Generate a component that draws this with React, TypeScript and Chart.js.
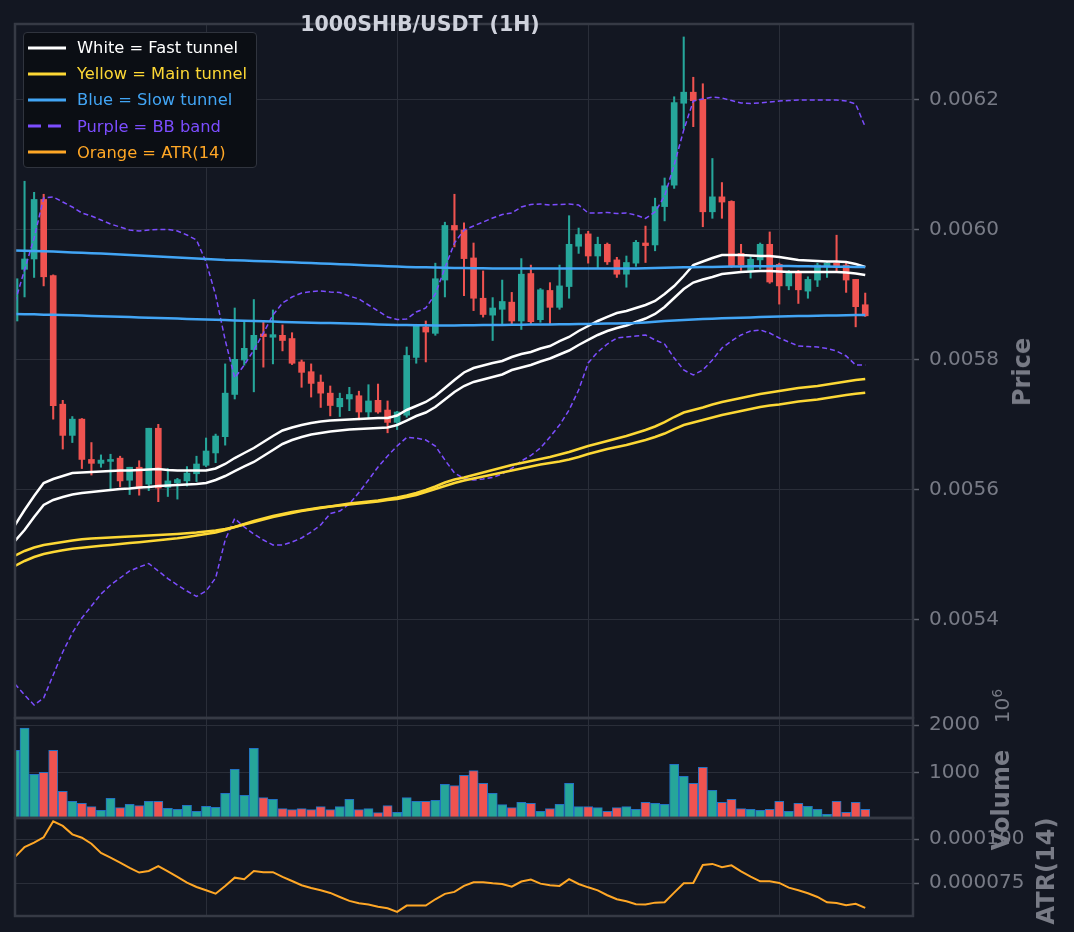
import { useEffect, useRef } from "react";
import { Chart, registerables } from "chart.js";

Chart.register(...registerables);
Chart.defaults.font.family = "'DejaVu Sans', sans-serif";

// 1H candles, oldest first
const OPEN = [
  0.005860, 0.0059395, 0.0059554, 0.006047, 0.005930, 0.005732, 0.005684, 0.005709, 0.005647, 0.005641,
  0.005644, 0.005649, 0.005615, 0.005635, 0.005609, 0.005695, 0.005604, 0.005611, 0.005614, 0.005625,
  0.005638, 0.005657, 0.005682, 0.005747, 0.005800, 0.005816, 0.005840, 0.005835, 0.005838, 0.005833,
  0.005797, 0.005782, 0.005766, 0.005749, 0.005728, 0.005740, 0.005745, 0.005720, 0.005738, 0.005723,
  0.005704, 0.005715, 0.005804, 0.005851, 0.005841, 0.005923, 0.006007, 0.006000, 0.005957, 0.005895,
  0.005869, 0.005878, 0.005889, 0.005860, 0.005933, 0.005862, 0.005907, 0.005881, 0.005913, 0.005975,
  0.005994, 0.005960, 0.005978, 0.005954, 0.005932, 0.005949, 0.005980, 0.005977, 0.006036, 0.006069,
  0.006195, 0.006212, 0.006201, 0.006028, 0.006051, 0.006044, 0.005964, 0.005938, 0.005954, 0.005978,
  0.005947, 0.005914, 0.005936, 0.005906, 0.005923, 0.005943, 0.005949, 0.005946, 0.005924, 0.005885,
];
const HIGH = [
  0.005942, 0.006075, 0.006058, 0.006055, 0.005931, 0.005738, 0.005713, 0.005710, 0.005673, 0.005654,
  0.005655, 0.005652, 0.005635, 0.005645, 0.005695, 0.005701, 0.005633, 0.005618, 0.005636, 0.005652,
  0.005680, 0.005686, 0.005794, 0.005880, 0.005859, 0.005893, 0.005859, 0.005877, 0.005854, 0.005842,
  0.005800, 0.005794, 0.005777, 0.005760, 0.005749, 0.005758, 0.005752, 0.005762, 0.005763, 0.005737,
  0.005721, 0.005820, 0.005855, 0.005860, 0.005949, 0.006012, 0.006055, 0.006011, 0.005980, 0.005937,
  0.005896, 0.005923, 0.005904, 0.005956, 0.005946, 0.005910, 0.005919, 0.005946, 0.006022, 0.006003,
  0.005998, 0.005989, 0.005980, 0.005958, 0.005960, 0.005984, 0.006006, 0.006049, 0.006080, 0.006205,
  0.006297, 0.006235, 0.006225, 0.006110, 0.006073, 0.006045, 0.005978, 0.005959, 0.005980, 0.005997,
  0.005949, 0.005938, 0.005938, 0.005928, 0.005949, 0.005950, 0.005992, 0.005949, 0.005924, 0.005903,
];
const LOW = [
  0.005800, 0.005897, 0.005927, 0.005914, 0.005709, 0.005663, 0.005673, 0.005633, 0.005623, 0.005635,
  0.005600, 0.005605, 0.005593, 0.005592, 0.005599, 0.005582, 0.005590, 0.005586, 0.005606, 0.005613,
  0.005636, 0.005642, 0.005669, 0.005740, 0.005792, 0.005751, 0.005789, 0.005794, 0.005814, 0.005793,
  0.005758, 0.005743, 0.005727, 0.005714, 0.005713, 0.005722, 0.005708, 0.005711, 0.005718, 0.005688,
  0.005693, 0.005712, 0.005795, 0.005797, 0.005838, 0.005897, 0.005974, 0.005899, 0.005876, 0.005866,
  0.005830, 0.005855, 0.005855, 0.005847, 0.005855, 0.005858, 0.005856, 0.005878, 0.005895, 0.005964,
  0.005949, 0.005942, 0.005947, 0.005927, 0.005912, 0.005944, 0.005950, 0.005968, 0.006014, 0.006064,
  0.006156, 0.006159, 0.006005, 0.006018, 0.006018, 0.005942, 0.005938, 0.005926, 0.005940, 0.005918,
  0.005886, 0.005908, 0.005887, 0.005895, 0.005913, 0.005927, 0.005936, 0.005904, 0.005851, 0.005867,
];
const CLOSE = [
  0.005925, 0.0059554, 0.006047, 0.005928, 0.0057297, 0.005684, 0.005709, 0.005647, 0.005641, 0.005646,
  0.005647, 0.005614, 0.005635, 0.005603, 0.005695, 0.005603, 0.005614, 0.005616, 0.005626, 0.005640,
  0.005660, 0.005683, 0.005749, 0.005801, 0.005818, 0.005838, 0.005836, 0.005839, 0.005830, 0.005795,
  0.005781, 0.005764, 0.005749, 0.005730, 0.005741, 0.005747, 0.005720, 0.005737, 0.005720, 0.005704,
  0.005720, 0.005807, 0.005853, 0.005843, 0.005925, 0.006007, 0.006000, 0.005956, 0.005895, 0.005870,
  0.005880, 0.005890, 0.005860, 0.005932, 0.005859, 0.005908, 0.005881, 0.005914, 0.005978, 0.005993,
  0.005960, 0.005978, 0.005951, 0.005932, 0.005950, 0.005981, 0.005976, 0.006036, 0.006068, 0.006196,
  0.006212, 0.006199, 0.006028, 0.006051, 0.006043, 0.005945, 0.005946, 0.005955, 0.005978, 0.005920,
  0.005914, 0.005936, 0.005908, 0.005924, 0.005946, 0.005949, 0.005943, 0.005923, 0.005882, 0.005868,
];

// volume in millions
const VOLUME = [
  1468, 1943, 957, 1000, 1468, 596, 383, 340, 270, 191,
  447, 248, 319, 291, 383, 383, 234, 213, 298, 170,
  277, 255, 553, 1064, 511, 1511, 461, 426, 227, 206,
  227, 206, 270, 206, 270, 426, 206, 227, 142, 291,
  149, 461, 383, 383, 404, 745, 716, 936, 1035, 766,
  553, 312, 248, 362, 340, 170, 227, 319, 766, 270,
  270, 248, 170, 248, 270, 213, 362, 340, 319, 1170,
  915, 766, 1106, 617, 362, 426, 227, 213, 191, 213,
  383, 170, 340, 277, 213, 106, 383, 149, 362, 213,
];

// fast tunnel (white)
const FAST_A = [
  0.0055462, 0.0055692, 0.0055908, 0.0056108, 0.0056169, 0.0056215, 0.0056262, 0.0056269, 0.0056277, 0.0056285,
  0.0056292, 0.0056300, 0.0056300, 0.0056308, 0.0056315, 0.0056323, 0.0056308, 0.0056300, 0.0056300, 0.0056300,
  0.0056300, 0.0056331, 0.0056400, 0.0056492, 0.0056569, 0.0056646, 0.0056738, 0.0056831, 0.0056915, 0.0056962,
  0.0057000, 0.0057031, 0.0057054, 0.0057069, 0.0057077, 0.0057085, 0.0057092, 0.0057100, 0.0057108, 0.0057108,
  0.0057146, 0.0057231, 0.0057292, 0.0057354, 0.0057446, 0.0057569, 0.0057692, 0.0057808, 0.0057877, 0.0057915,
  0.0057954, 0.0057985, 0.0058046, 0.0058092, 0.0058123, 0.0058177, 0.0058215, 0.0058292, 0.0058354, 0.0058446,
  0.0058523, 0.0058600, 0.0058662, 0.0058723, 0.0058754, 0.0058800, 0.0058846, 0.0058908, 0.0059015, 0.0059138,
  0.0059292, 0.0059462, 0.0059515, 0.0059569, 0.0059615, 0.0059615, 0.0059615, 0.0059608, 0.0059600, 0.0059600,
  0.0059585, 0.0059562, 0.0059538, 0.0059531, 0.0059523, 0.0059515, 0.0059515, 0.0059508, 0.0059477, 0.0059431,
];
const FAST_B = [
  0.0055215, 0.0055385, 0.0055585, 0.0055769, 0.0055846, 0.0055892, 0.0055931, 0.0055954, 0.0055969, 0.0055985,
  0.0056000, 0.0056015, 0.0056023, 0.0056038, 0.0056046, 0.0056062, 0.0056069, 0.0056077, 0.0056085, 0.0056092,
  0.0056108, 0.0056154, 0.0056215, 0.0056292, 0.0056362, 0.0056431, 0.0056523, 0.0056615, 0.0056708, 0.0056769,
  0.0056815, 0.0056854, 0.0056877, 0.0056900, 0.0056915, 0.0056931, 0.0056938, 0.0056946, 0.0056954, 0.0056962,
  0.0057000, 0.0057069, 0.0057138, 0.0057192, 0.0057277, 0.0057392, 0.0057508, 0.0057600, 0.0057662, 0.0057700,
  0.0057738, 0.0057777, 0.0057846, 0.0057885, 0.0057923, 0.0057977, 0.0058023, 0.0058085, 0.0058146, 0.0058231,
  0.0058308, 0.0058385, 0.0058446, 0.0058492, 0.0058531, 0.0058585, 0.0058638, 0.0058708, 0.0058815, 0.0058954,
  0.0059092, 0.0059192, 0.0059238, 0.0059277, 0.0059323, 0.0059338, 0.0059354, 0.0059362, 0.0059369, 0.0059369,
  0.0059362, 0.0059354, 0.0059354, 0.0059354, 0.0059354, 0.0059354, 0.0059354, 0.0059346, 0.0059331, 0.0059308,
];

// main tunnel (yellow)
const MAIN_A = [
  0.0054992, 0.0055062, 0.0055115, 0.0055154, 0.0055177, 0.0055200, 0.0055223, 0.0055242, 0.0055252, 0.0055262,
  0.0055269, 0.0055277, 0.0055285, 0.0055292, 0.0055300, 0.0055308, 0.0055315, 0.0055323, 0.0055334, 0.0055346,
  0.0055362, 0.0055377, 0.0055400, 0.0055431, 0.0055469, 0.0055508, 0.0055546, 0.0055585, 0.0055615, 0.0055646,
  0.0055677, 0.0055700, 0.0055723, 0.0055746, 0.0055769, 0.0055792, 0.0055808, 0.0055823, 0.0055838, 0.0055862,
  0.0055885, 0.0055915, 0.0055954, 0.0056000, 0.0056054, 0.0056115, 0.0056162, 0.0056192, 0.0056231, 0.0056269,
  0.0056308, 0.0056346, 0.0056385, 0.0056415, 0.0056446, 0.0056477, 0.0056508, 0.0056546, 0.0056585, 0.0056631,
  0.0056677, 0.0056715, 0.0056754, 0.0056792, 0.0056831, 0.0056877, 0.0056923, 0.0056977, 0.0057046, 0.0057123,
  0.0057192, 0.0057231, 0.0057269, 0.0057315, 0.0057354, 0.0057385, 0.0057415, 0.0057446, 0.0057477, 0.0057500,
  0.0057523, 0.0057546, 0.0057569, 0.0057585, 0.0057600, 0.0057623, 0.0057646, 0.0057669, 0.0057692, 0.0057708,
];
const MAIN_B = [
  0.0054831, 0.0054908, 0.0054969, 0.0055015, 0.0055046, 0.0055072, 0.0055095, 0.0055111, 0.0055126, 0.0055142,
  0.0055154, 0.0055169, 0.0055185, 0.0055197, 0.0055211, 0.0055226, 0.0055242, 0.0055257, 0.0055277, 0.0055300,
  0.0055323, 0.0055346, 0.0055385, 0.0055431, 0.0055477, 0.0055523, 0.0055562, 0.0055600, 0.0055631, 0.0055662,
  0.0055685, 0.0055708, 0.0055731, 0.0055746, 0.0055762, 0.0055777, 0.0055792, 0.0055808, 0.0055823, 0.0055846,
  0.0055862, 0.0055892, 0.0055923, 0.0055969, 0.0056015, 0.0056062, 0.0056108, 0.0056146, 0.0056177, 0.0056208,
  0.0056238, 0.0056269, 0.0056300, 0.0056331, 0.0056362, 0.0056392, 0.0056415, 0.0056438, 0.0056469, 0.0056508,
  0.0056554, 0.0056592, 0.0056631, 0.0056662, 0.0056692, 0.0056731, 0.0056769, 0.0056815, 0.0056869, 0.0056938,
  0.0057000, 0.0057038, 0.0057077, 0.0057115, 0.0057154, 0.0057185, 0.0057215, 0.0057246, 0.0057277, 0.0057300,
  0.0057315, 0.0057338, 0.0057362, 0.0057377, 0.0057392, 0.0057415, 0.0057438, 0.0057462, 0.0057480, 0.0057497,
];

// slow tunnel (blue)
const SLOW_A = [
  0.0059685, 0.0059680, 0.0059677, 0.0059672, 0.0059668, 0.0059662, 0.0059655, 0.0059649, 0.0059643, 0.0059637,
  0.0059631, 0.0059623, 0.0059615, 0.0059608, 0.0059600, 0.0059592, 0.0059585, 0.0059577, 0.0059569, 0.0059562,
  0.0059554, 0.0059546, 0.0059538, 0.0059534, 0.0059529, 0.0059523, 0.0059518, 0.0059514, 0.0059508, 0.0059503,
  0.0059498, 0.0059492, 0.0059486, 0.0059480, 0.0059474, 0.0059468, 0.0059462, 0.0059455, 0.0059449, 0.0059443,
  0.0059437, 0.0059431, 0.0059428, 0.0059425, 0.0059422, 0.0059418, 0.0059415, 0.0059414, 0.0059412, 0.0059411,
  0.0059409, 0.0059408, 0.0059408, 0.0059408, 0.0059408, 0.0059408, 0.0059408, 0.0059408, 0.0059408, 0.0059408,
  0.0059408, 0.0059408, 0.0059408, 0.0059408, 0.0059408, 0.0059408, 0.0059412, 0.0059415, 0.0059418, 0.0059422,
  0.0059425, 0.0059428, 0.0059431, 0.0059431, 0.0059434, 0.0059437, 0.0059439, 0.0059441, 0.0059443, 0.0059443,
  0.0059445, 0.0059445, 0.0059443, 0.0059443, 0.0059440, 0.0059437, 0.0059435, 0.0059433, 0.0059431, 0.0059431,
];
const SLOW_B = [
  0.0058708, 0.0058705, 0.0058702, 0.0058698, 0.0058695, 0.0058692, 0.0058688, 0.0058683, 0.0058678, 0.0058674,
  0.0058669, 0.0058665, 0.0058660, 0.0058655, 0.0058651, 0.0058646, 0.0058642, 0.0058637, 0.0058632, 0.0058628,
  0.0058623, 0.0058618, 0.0058614, 0.0058609, 0.0058605, 0.0058600, 0.0058595, 0.0058591, 0.0058586, 0.0058582,
  0.0058577, 0.0058574, 0.0058571, 0.0058568, 0.0058565, 0.0058562, 0.0058557, 0.0058552, 0.0058548, 0.0058543,
  0.0058538, 0.0058537, 0.0058535, 0.0058534, 0.0058532, 0.0058531, 0.0058532, 0.0058534, 0.0058535, 0.0058537,
  0.0058538, 0.0058540, 0.0058542, 0.0058543, 0.0058545, 0.0058546, 0.0058548, 0.0058549, 0.0058551, 0.0058552,
  0.0058554, 0.0058557, 0.0058560, 0.0058563, 0.0058566, 0.0058569, 0.0058577, 0.0058588, 0.0058600, 0.0058608,
  0.0058615, 0.0058623, 0.0058631, 0.0058635, 0.0058642, 0.0058646, 0.0058651, 0.0058655, 0.0058660, 0.0058665,
  0.0058669, 0.0058672, 0.0058675, 0.0058678, 0.0058682, 0.0058685, 0.0058686, 0.0058688, 0.0058691, 0.0058692,
];

// Bollinger bands (purple dashed)
const BB_UPPER = [
  0.0058892, 0.0059385, 0.0059877, 0.0060492, 0.0060508, 0.0060431, 0.0060354, 0.0060262, 0.0060215, 0.0060154,
  0.0060092, 0.0060046, 0.0060000, 0.0059985, 0.0060000, 0.0060008, 0.0060008, 0.0059985, 0.0059923, 0.0059846,
  0.0059508, 0.0059000, 0.0058308, 0.0057723, 0.0057923, 0.0058154, 0.0058415, 0.0058692, 0.0058877, 0.0058969,
  0.0059031, 0.0059054, 0.0059062, 0.0059046, 0.0059038, 0.0058985, 0.0058938, 0.0058846, 0.0058754, 0.0058662,
  0.0058623, 0.0058631, 0.0058738, 0.0058800, 0.0059015, 0.0059415, 0.0059800, 0.0060000, 0.0060062, 0.0060123,
  0.0060185, 0.0060238, 0.0060262, 0.0060354, 0.0060392, 0.0060400, 0.0060385, 0.0060392, 0.0060400, 0.0060385,
  0.0060262, 0.0060262, 0.0060269, 0.0060254, 0.0060262, 0.0060231, 0.0060177, 0.0060277, 0.0060523, 0.0061000,
  0.0061538, 0.0061985, 0.0062015, 0.0062046, 0.0062031, 0.0061992, 0.0061954, 0.0061946, 0.0061954, 0.0061969,
  0.0061985, 0.0061992, 0.0062000, 0.0062000, 0.0062000, 0.0062000, 0.0062000, 0.0061985, 0.0061938, 0.0061585,
];
const BB_LOWER = [
  0.0053015, 0.0052846, 0.0052692, 0.0052800, 0.0053154, 0.0053508, 0.0053800, 0.0054031, 0.0054215, 0.0054400,
  0.0054538, 0.0054646, 0.0054754, 0.0054815, 0.0054869, 0.0054754, 0.0054638, 0.0054538, 0.0054446, 0.0054362,
  0.0054446, 0.0054646, 0.0055231, 0.0055562, 0.0055431, 0.0055323, 0.0055231, 0.0055154, 0.0055154, 0.0055200,
  0.0055262, 0.0055354, 0.0055462, 0.0055638, 0.0055677, 0.0055785, 0.0055962, 0.0056154, 0.0056354, 0.0056523,
  0.0056677, 0.0056808, 0.0056800, 0.0056769, 0.0056677, 0.0056462, 0.0056262, 0.0056177, 0.0056154, 0.0056169,
  0.0056192, 0.0056246, 0.0056331, 0.0056446, 0.0056531, 0.0056646, 0.0056815, 0.0057000, 0.0057231, 0.0057538,
  0.0057954, 0.0058123, 0.0058246, 0.0058338, 0.0058354, 0.0058369, 0.0058385, 0.0058308, 0.0058246, 0.0058031,
  0.0057846, 0.0057769, 0.0057846, 0.0058000, 0.0058185, 0.0058292, 0.0058385, 0.0058446, 0.0058462, 0.0058415,
  0.0058338, 0.0058277, 0.0058215, 0.0058208, 0.0058200, 0.0058177, 0.0058138, 0.0058062, 0.0057923, 0.0057923,
];

const ATR = [
  0.0000900, 0.0000956, 0.0000981, 0.0001011, 0.0001102, 0.0001076, 0.0001028, 0.0001009, 0.0000975, 0.0000922,
  0.0000896, 0.0000867, 0.0000837, 0.0000811, 0.0000820, 0.0000848, 0.0000818, 0.0000786, 0.0000754, 0.0000729,
  0.0000710, 0.0000691, 0.0000735, 0.0000782, 0.0000773, 0.0000820, 0.0000813, 0.0000813, 0.0000786, 0.0000763,
  0.0000739, 0.0000723, 0.0000710, 0.0000695, 0.0000672, 0.0000650, 0.0000636, 0.0000629, 0.0000617, 0.0000608,
  0.0000587, 0.0000623, 0.0000623, 0.0000623, 0.0000659, 0.0000690, 0.0000701, 0.0000735, 0.0000756, 0.0000756,
  0.0000750, 0.0000746, 0.0000731, 0.0000760, 0.0000771, 0.0000748, 0.0000739, 0.0000735, 0.0000773, 0.0000746,
  0.0000727, 0.0000710, 0.0000682, 0.0000659, 0.0000648, 0.0000631, 0.0000629, 0.0000640, 0.0000642, 0.0000697,
  0.0000750, 0.0000752, 0.0000854, 0.0000860, 0.0000841, 0.0000852, 0.0000818, 0.0000788, 0.0000761, 0.0000761,
  0.0000752, 0.0000725, 0.0000710, 0.0000693, 0.0000672, 0.0000642, 0.0000638, 0.0000625, 0.0000633, 0.0000610,
];

const X_TICKS = [0, 20, 40, 60, 80];
const PRICE_TICKS = [0.0054, 0.0056, 0.0058, 0.006, 0.0062];
const VOLUME_TICKS = [1000, 2000];
const ATR_TICKS = [0.000075, 0.0001];

const LEGEND = [
  { label: "White = Fast tunnel", color: "#ffffff", dash: false },
  { label: "Yellow = Main tunnel", color: "#fdd835", dash: false },
  { label: "Blue = Slow tunnel", color: "#42a5f5", dash: false },
  { label: "Purple = BB band", color: "#7c4dff", dash: true },
  { label: "Orange = ATR(14)", color: "#ffa726", dash: false },
];

const BG = "#131722";
const GRID = "#2a2e39";
const FRAME = "#363a45";
const TICK = "#787b86";
const GREEN = "#26a69a";
const RED = "#ef5350";
const W = 1074;
const H = 932;

const idx = OPEN.map((_, i) => i);
const candleColor = idx.map((i) => (CLOSE[i] >= OPEN[i] ? GREEN : RED));
const pts = (arr: number[]) => arr.map((v, i) => ({ x: i, y: v }));

const framePlugin = {
  id: "frame",
  afterDraw(chart: any) {
    const { ctx, chartArea: a } = chart;
    ctx.save();
    ctx.strokeStyle = FRAME;
    ctx.lineWidth = 2.5;
    ctx.strokeRect(a.left, a.top, a.right - a.left, a.bottom - a.top);
    ctx.restore();
  },
};

const xAxis = () => ({
  type: "linear",
  min: 0,
  max: 94,
  offset: false,
  afterBuildTicks: (s: any) => {
    s.ticks = X_TICKS.map((v) => ({ value: v }));
  },
  afterFit: (s: any) => {
    s.height = 0;
    s.paddingLeft = 0;
    s.paddingRight = 0;
  },
  ticks: { display: false },
  grid: { color: GRID, drawTicks: false, offset: false },
  border: { display: false },
});

const yAxis = (min: number, max: number, ticks: number[], fmt: (v: number) => string) => ({
  type: "linear",
  position: "right",
  min,
  max,
  afterBuildTicks: (s: any) => {
    s.ticks = ticks.map((v) => ({ value: v }));
  },
  afterFit: (s: any) => {
    s.width = 161;
    s.paddingTop = 0;
    s.paddingBottom = 0;
  },
  ticks: {
    color: TICK,
    font: { size: 20 },
    padding: 10,
    callback: (v: any) => fmt(Number(v)),
  },
  grid: { color: GRID, tickColor: "#5d606b", tickLength: 6, tickWidth: 1.5 },
  border: { display: false },
});

const baseOptions = (top: number, bottom: number, y: any) => ({
  responsive: false,
  animation: false,
  events: [],
  layout: { autoPadding: false, padding: { left: 15, right: 0, top, bottom: H - bottom } },
  plugins: { legend: { display: false }, tooltip: { enabled: false } },
  scales: { x: xAxis(), y },
});

const line = (data: number[], color: string, width: number, dash?: number[]) => ({
  type: "line",
  data: pts(data),
  borderColor: color,
  borderWidth: width,
  borderDash: dash || [],
  pointRadius: 0,
  tension: 0,
  fill: false,
  order: 1,
});

const PriceChart = () => {
  const ref = useRef<HTMLCanvasElement>(null);
  useEffect(() => {
    if (!ref.current) return;
    const chart = new Chart(ref.current, {
      type: "bar",
      data: {
        datasets: [
          {
            type: "bar",
            data: idx.map((i) => ({ x: i, y: [LOW[i], HIGH[i]] })),
            backgroundColor: candleColor,
            barThickness: 1.4,
            grouped: false,
            order: 10,
          },
          {
            type: "bar",
            data: idx.map((i) => ({ x: i, y: [OPEN[i], CLOSE[i]] })),
            backgroundColor: candleColor,
            barThickness: 6,
            grouped: false,
            order: 9,
          },
          line(SLOW_A, "#42a5f5", 2.5),
          line(SLOW_B, "#42a5f5", 2.5),
          line(MAIN_A, "#fdd835", 2.5),
          line(MAIN_B, "#fdd835", 2.5),
          line(FAST_A, "#ffffff", 2.5),
          line(FAST_B, "#ffffff", 2.5),
          line(BB_UPPER, "#7c4dff", 1.5, [5, 3]),
          line(BB_LOWER, "#7c4dff", 1.5, [5, 3]),
        ],
      } as any,
      options: baseOptions(24, 718, yAxis(0.00524923, 0.00631692, PRICE_TICKS, (v) => v.toFixed(4))) as any,
      plugins: [framePlugin],
    });
    return () => chart.destroy();
  }, []);
  return <canvas ref={ref} width={W} height={H} style={{ position: "absolute", left: 0, top: 0 }} />;
};

const VolumeChart = () => {
  const ref = useRef<HTMLCanvasElement>(null);
  useEffect(() => {
    if (!ref.current) return;
    const chart = new Chart(ref.current, {
      type: "bar",
      data: {
        datasets: [
          {
            data: pts(VOLUME),
            backgroundColor: candleColor,
            borderColor: "#2272c3",
            borderWidth: 1,
            barThickness: 9.2,
            grouped: false,
          },
        ],
      } as any,
      options: baseOptions(718, 818, yAxis(28, 2155, VOLUME_TICKS, (v) => String(v))) as any,
      plugins: [framePlugin],
    });
    return () => chart.destroy();
  }, []);
  return <canvas ref={ref} width={W} height={H} style={{ position: "absolute", left: 0, top: 0 }} />;
};

const AtrChart = () => {
  const ref = useRef<HTMLCanvasElement>(null);
  useEffect(() => {
    if (!ref.current) return;
    const chart = new Chart(ref.current, {
      type: "line",
      data: { datasets: [line(ATR, "#ffa726", 2)] } as any,
      options: baseOptions(818, 916, yAxis(0.0000564, 0.0001121, ATR_TICKS, (v) => v.toFixed(6))) as any,
      plugins: [framePlugin],
    });
    return () => chart.destroy();
  }, []);
  return <canvas ref={ref} width={W} height={H} style={{ position: "absolute", left: 0, top: 0 }} />;
};

const rotated = (cx: number, cy: number, extra: any) => ({
  position: "absolute" as const,
  left: cx,
  top: cy,
  transform: "translate(-50%, -50%) rotate(-90deg)",
  whiteSpace: "nowrap" as const,
  lineHeight: 1,
  color: TICK,
  ...extra,
});

const App = () => {
  useEffect(() => {
    document.body.style.margin = "0";
    document.body.style.background = BG;
  }, []);
  return (
    <div
      style={{
        position: "fixed",
        left: 0,
        top: 0,
        width: W,
        height: H,
        background: BG,
        overflow: "hidden",
        fontFamily: "'DejaVu Sans', sans-serif",
      }}
    >
      <PriceChart />
      <VolumeChart />
      <AtrChart />
      <div
        style={{
          position: "absolute",
          left: 420,
          top: 23.5,
          transform: "translate(-50%, -50%)",
          fontSize: 20.5,
          fontWeight: "bold",
          lineHeight: 1,
          color: "#cfd2dc",
          whiteSpace: "nowrap",
        }}
      >
        1000SHIB/USDT (1H)
      </div>
      <div
        style={{
          position: "absolute",
          left: 23,
          top: 32,
          width: 234,
          height: 136,
          boxSizing: "border-box",
          background: "#0b0e14",
          border: "1.5px solid #30343e",
          borderRadius: 4,
        }}
      >
        {LEGEND.map((item, k) => (
          <div
            key={item.label}
            style={{ position: "absolute", left: 0, top: 14.5 + k * 26.2 - 12, height: 24, display: "flex", alignItems: "center" }}
          >
            <svg width={46} height={24} style={{ marginLeft: 4 }}>
              <line
                x1={0}
                x2={38}
                y1={12}
                y2={12}
                stroke={item.color}
                strokeWidth={3}
                strokeDasharray={item.dash ? "13 7" : undefined}
              />
            </svg>
            <span style={{ color: item.color, fontSize: 16.3, whiteSpace: "nowrap", marginLeft: 3 }}>{item.label}</span>
          </div>
        ))}
      </div>
      <div style={rotated(1022, 372, { fontSize: 24, fontWeight: "bold" })}>Price</div>
      <div style={rotated(1001, 706, { fontSize: 20 })}>
        10<sup style={{ fontSize: 14 }}>6</sup>
      </div>
      <div style={rotated(1001, 800, { fontSize: 24, fontWeight: "bold" })}>Volume</div>
      <div style={rotated(1046, 871, { fontSize: 24, fontWeight: "bold" })}>ATR(14)</div>
    </div>
  );
};

export default App;
